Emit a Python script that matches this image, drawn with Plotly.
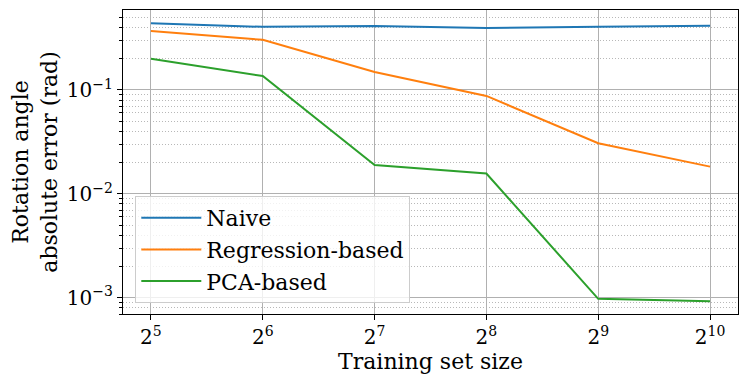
import numpy as np
import plotly.graph_objects as go

sizes = [32, 64, 128, 256, 512, 1024]
size_labels = ["2<sup>5</sup>", "2<sup>6</sup>", "2<sup>7</sup>", "2<sup>8</sup>", "2<sup>9</sup>", "2<sup>10</sup>"]
naive = [0.437, 0.404, 0.412, 0.394, 0.404, 0.415]
regression = [0.369, 0.303, 0.149, 0.0876, 0.0307, 0.0183]
pca = [0.199, 0.136, 0.019, 0.0157, 0.00098, 0.00093]
y_ticks = [0.001, 0.01, 0.1]
y_labels = ["10<sup>\u22123</sup>", "10<sup>\u22122</sup>", "10<sup>\u22121</sup>"]

font = "DejaVu Serif"
fig = go.Figure()
for name, vals, col in [("Naive", naive, "#1f77b4"),
                        ("Regression-based", regression, "#ff7f0e"),
                        ("PCA-based", pca, "#2ca02c")]:
    fig.add_trace(go.Scatter(x=sizes, y=vals, name=name, mode="lines",
                             line=dict(color=col, width=2)))

# the page body has an 8px margin, so the figure is drawn 8px smaller
lx = np.log10(2)
fig.update_layout(
    width=740, height=375,
    margin=dict(l=115, r=10, t=2, b=69),
    plot_bgcolor="white", paper_bgcolor="white",
    font=dict(family=font, color="black", size=22),
    legend=dict(x=0.02, y=0.036, xanchor="left", yanchor="bottom",
                bgcolor="rgba(255,255,255,0.8)", bordercolor="#cccccc", borderwidth=1,
                itemwidth=60, font=dict(size=22, family=font)),
)
fig.update_xaxes(
    type="log", range=[np.log10(32) - 0.25 * lx, np.log10(1024) + 0.25 * lx],
    tickvals=sizes, ticktext=size_labels, tickfont=dict(size=20),
    ticks="outside", ticklen=5, tickcolor="black", automargin=False,
    showgrid=True, gridcolor="#b0b0b0", gridwidth=1,
    showline=True, linecolor="black", linewidth=1.2, mirror=True,
    title=dict(text="Training set size", font=dict(size=22), standoff=0),
)
fig.update_yaxes(
    type="log", range=[np.log10(7.0e-4), np.log10(0.587)],
    tickvals=y_ticks, ticktext=y_labels, tickfont=dict(size=20),
    ticks="outside", ticklen=5, tickcolor="black", automargin=False,
    showgrid=True, gridcolor="#b0b0b0", gridwidth=1,
    minor=dict(ticks="outside", ticklen=3, tickcolor="black", showgrid=True,
               gridcolor="#b8b8b8", griddash="1px,2px", dtick="D1"),
    showline=True, linecolor="black", linewidth=1.2, mirror=True,
    title=dict(text="Rotation angle<br>absolute error (rad)", font=dict(size=22), standoff=6),
)
fig.write_html("out.html")
